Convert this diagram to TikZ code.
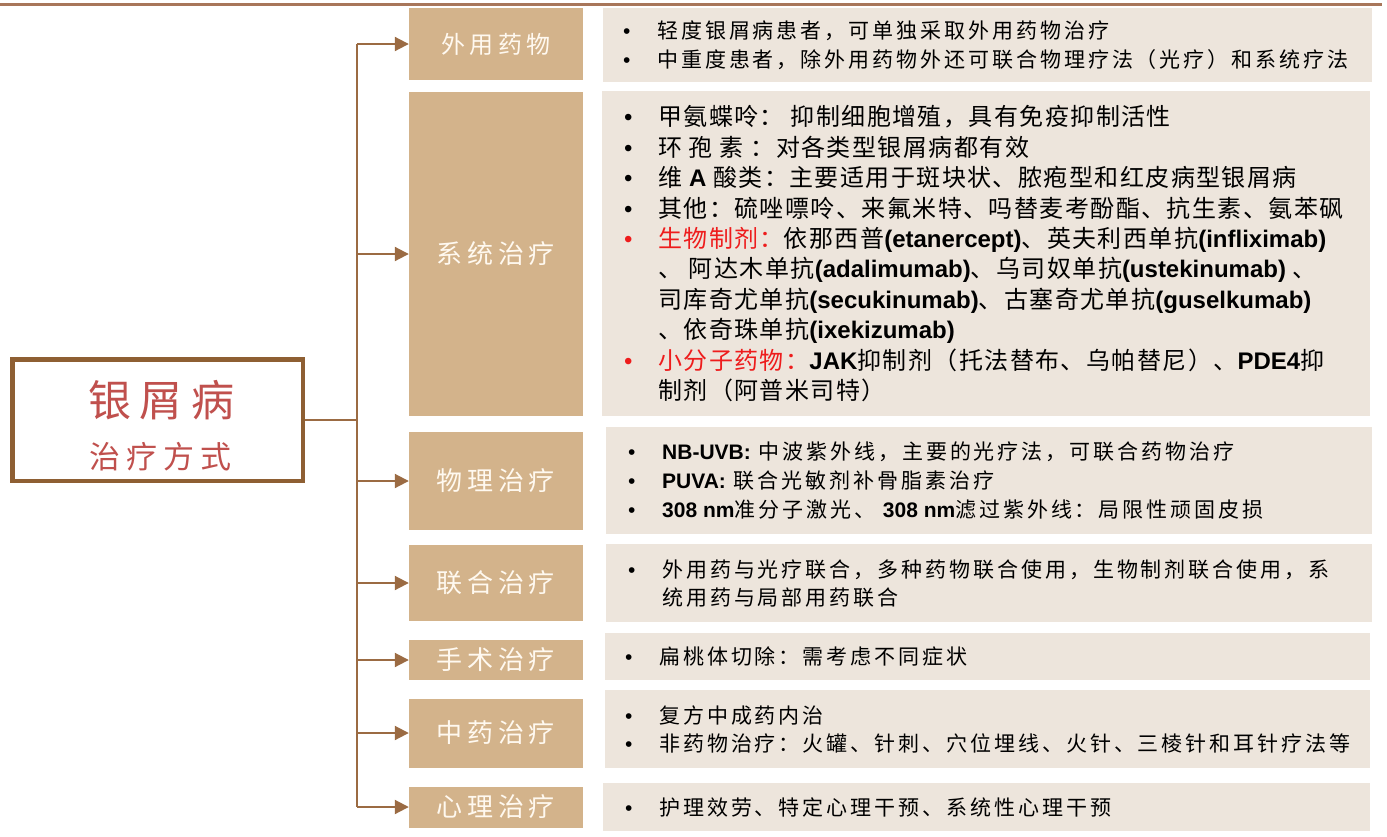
\documentclass[tikz,border=0pt]{standalone}
\usepackage{fontspec}
\setmainfont{Noto Sans CJK SC}
\newfontfamily\cjkN{Noto Sans CJK SC}[LetterSpace=14]
\newfontfamily\cjkS{Noto Sans CJK SC}[LetterSpace=6]
\newfontfamily\cjkL{Noto Sans CJK SC}[LetterSpace=18]
\newfontfamily\cjkM{Noto Sans CJK SC}[LetterSpace=20]
\newfontfamily\arl{Liberation Sans}[BoldFont={Liberation Sans Bold}]
\usetikzlibrary{arrows.meta}
\definecolor{boxtan}{HTML}{D3B38B}
\definecolor{boxtxt}{HTML}{FFF9F0}
\definecolor{boxbg}{HTML}{EDE5DC}
\definecolor{linebrown}{HTML}{9B6B43}
\definecolor{mainbrown}{HTML}{8E5F33}
\definecolor{mainred}{HTML}{C0504D}
\definecolor{topbrown}{HTML}{A8765A}
\definecolor{bred}{HTML}{EE1C1C}
\newcommand\enb[1]{{\arl\bfseries #1}}
\newcommand\bl{\makebox[34pt][l]{\arl •}}
\newcommand\rbl{\makebox[34pt][l]{\arl\color{bred}•}}
\newcommand\ind{\hspace*{34pt}}
\begin{document}
\begin{tikzpicture}[x=1pt,y=-1pt,
  lbox/.style={fill=boxtan, draw=none, minimum width=174pt, inner sep=0pt, text=boxtxt, font=\cjkL\fontsize{26pt}{30pt}\selectfont},
  rbox/.style={fill=boxbg, draw=none, inner sep=0pt, anchor=north west},
  rtxt/.style={anchor=west, align=left, inner sep=0pt, font=\cjkN\fontsize{21pt}{29pt}\selectfont, text=black},
  stxt/.style={anchor=west, align=left, inner sep=0pt, font=\cjkS\fontsize{24pt}{30.4pt}\selectfont, text=black},
  ln/.style={draw=linebrown, line width=2pt},
  arr/.style={ln, -{Triangle[length=14pt,width=14pt]}},
]
\useasboundingbox (0,0) rectangle (1387,836);
\draw[draw=topbrown, line width=3pt] (0,4) -- (1382,4);

% main box
\node[draw=mainbrown, line width=4.5pt, fill=white, minimum width=290.5pt, minimum height=121.5pt, inner sep=0pt] (main) at (157.5,420) {};
\node[font=\cjkM\fontsize{43pt}{43pt}\selectfont, text=mainred, inner sep=0pt] (mt1) at ([yshift=20pt,xshift=4pt]main.center) {银屑病};
\node[font=\cjkM\fontsize{31pt}{31pt}\selectfont, text=mainred, inner sep=0pt] (mt2) at ([yshift=-37pt,xshift=3pt]main.center) {治疗方式};

% left boxes
\node[lbox, minimum height=72pt, font=\cjkL\fontsize{24pt}{30pt}\selectfont] (l1) at (496,44) {外用药物};
\node[lbox, minimum height=324pt] (l2) at (496,254) {系统治疗};
\node[lbox, minimum height=98pt] (l3) at (496,481) {物理治疗};
\node[lbox, minimum height=76pt] (l4) at (496,583) {联合治疗};
\node[lbox, minimum height=40pt] (l5) at (496,660) {手术治疗};
\node[lbox, minimum height=69pt] (l6) at (496,733) {中药治疗};
\node[lbox, minimum height=41pt] (l7) at (496,807) {心理治疗};

% connectors
\coordinate (tr) at (357,420);
\draw[ln] (main.east) -- (main.east -| tr);
\draw[ln] (l1.west -| tr) -- (l7.west -| tr);
\foreach \b in {l1,l2,l3,l4,l5,l6,l7}
  \draw[arr] (\b.west -| tr) -- (\b.west);

% right boxes
\node[rbox, minimum width=769pt, minimum height=74pt] (r1) at (603,8) {};
\node[rbox, minimum width=768pt, minimum height=325pt] (r2) at (602,91) {};
\node[rbox, minimum width=766pt, minimum height=107pt] (r3) at (606,427) {};
\node[rbox, minimum width=766pt, minimum height=78pt] (r4) at (606,544) {};
\node[rbox, minimum width=765pt, minimum height=47pt] (r5) at (605,633) {};
\node[rbox, minimum width=765pt, minimum height=78pt] (r6) at (605,690) {};
\node[rbox, minimum width=767pt, minimum height=48pt] (r7) at (603,783) {};

\node[rtxt] (t1) at ([xshift=20pt]r1.west) {\bl 轻度银屑病患者，可单独采取外用药物治疗\\
\bl 中重度患者，除外用药物外还可联合物理疗法（光疗）和系统疗法};

\node[stxt] (t2) at ([xshift=22pt]r2.west) {\bl 甲氨蝶呤： 抑制细胞增殖，具有免疫抑制活性\\
\bl 环 孢 素 ：对各类型银屑病都有效\\
\bl 维 \enb{A} 酸类：主要适用于斑块状、脓疱型和红皮病型银屑病\\
\bl 其他：硫唑嘌呤、来氟米特、吗替麦考酚酯、抗生素、氨苯砜\\
\rbl {\color{bred}生物制剂：}依那西普\enb{(etanercept)}、英夫利西单抗\enb{(infliximab)}\\
\ind 、 阿达木单抗\enb{(adalimumab)}、乌司奴单抗\enb{(ustekinumab)} 、\\
\ind 司库奇尤单抗\enb{(secukinumab)}、古塞奇尤单抗\enb{(guselkumab)}\\
\ind 、依奇珠单抗\enb{(ixekizumab)}\\
\rbl {\color{bred}小分子药物：}\enb{JAK}抑制剂（托法替布、乌帕替尼）、\enb{PDE4}抑\\
\ind 制剂（阿普米司特）};

\node[rtxt] (t3) at ([xshift=22pt]r3.west) {\bl \enb{NB-UVB:} 中波紫外线，主要的光疗法，可联合药物治疗\\
\bl \enb{PUVA:} 联合光敏剂补骨脂素治疗\\
\bl \enb{308 nm}准分子激光、 \enb{308 nm}滤过紫外线：局限性顽固皮损};

\node[rtxt, font=\cjkN\fontsize{21pt}{28pt}\selectfont] (t4) at ([xshift=22pt]r4.west) {\bl 外用药与光疗联合，多种药物联合使用，生物制剂联合使用，系\\
\ind 统用药与局部用药联合};

\node[rtxt] (t5) at ([xshift=20pt]r5.west) {\bl 扁桃体切除：需考虑不同症状};

\node[rtxt, font=\cjkN\fontsize{21pt}{28pt}\selectfont] (t6) at ([xshift=20pt]r6.west) {\bl 复方中成药内治\\
\bl 非药物治疗：火罐、针刺、穴位埋线、火针、三棱针和耳针疗法等};

\node[rtxt] (t7) at ([xshift=22pt]r7.west) {\bl 护理效劳、特定心理干预、系统性心理干预};
\end{tikzpicture}
\end{document}
